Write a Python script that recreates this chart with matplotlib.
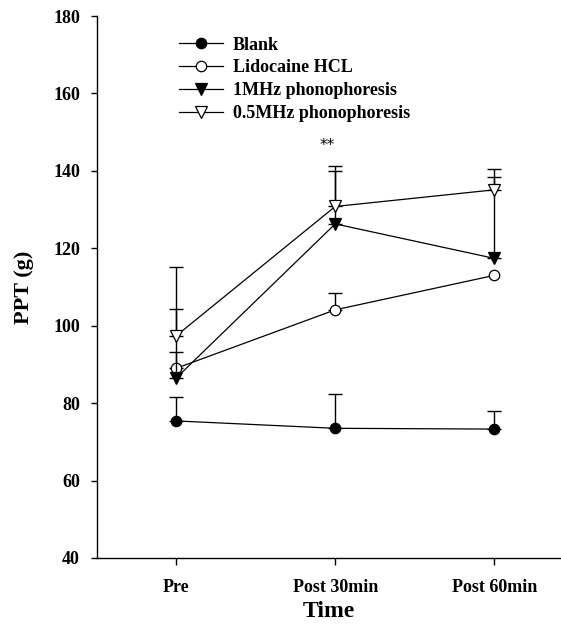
import matplotlib
matplotlib.use("Agg")
import matplotlib.pyplot as plt
import numpy as np

plt.rcParams["font.family"] = ["Liberation Serif", "DejaVu Serif"]
plt.rcParams["font.weight"] = "bold"

# Data
time_labels = ["Pre", "Post 30min", "Post 60min"]
blank = [75.4, 73.5, 73.3]
blank_err = [6.3, 8.8, 4.7]
lidocaine = [89.0, 104.1, 113.0]
lidocaine_err = [4.2, 4.4, 0.0]
mhz1 = [86.5, 126.3, 117.4]
mhz1_err = [17.7, 13.6, 23.2]
mhz05 = [97.4, 130.8, 135.1]
mhz05_err = [17.7, 10.5, 3.3]

series = [
    ("Blank", blank, blank_err, "o", "black"),
    ("Lidocaine HCL", lidocaine, lidocaine_err, "o", "white"),
    ("1MHz phonophoresis", mhz1, mhz1_err, "v", "black"),
    ("0.5MHz phonophoresis", mhz05, mhz05_err, "v", "white"),
]

fig = plt.figure(figsize=(5.61, 6.33), dpi=100)
ax = fig.add_axes([0.1724, 0.1185, 0.8276, 0.8562])

x = np.arange(1, len(time_labels) + 1)
for label, vals, err, marker, face in series:
    vals = np.asarray(vals)
    err = np.asarray(err)
    keep = err > 0
    # upper error bars only
    ax.errorbar(
        x[keep], vals[keep],
        yerr=[np.zeros(keep.sum()), err[keep]],
        fmt="none", ecolor="black", elinewidth=1.0, capsize=5, capthick=1.0,
    )
    ax.plot(
        x, vals,
        color="black", linewidth=0.9, label=label,
        marker=marker, markersize=8.5 if marker == "v" else 7.5,
        markerfacecolor=face, markeredgecolor="black", markeredgewidth=0.9,
    )

ax.text(2 - 0.05, 146.5, "**", ha="center", va="center", fontsize=11,
        fontweight="normal", family="DejaVu Sans")

ax.set_xlim(0.5, 3.42)
ax.set_ylim(40, 180)
ax.set_yticks(np.arange(40, 181, 20))
ax.set_xticks(x)
ax.set_xticklabels(time_labels)

for side in ["top", "right"]:
    ax.spines[side].set_visible(False)
for side in ["left", "bottom"]:
    ax.spines[side].set_linewidth(1.0)

ax.tick_params(axis="y", direction="out", length=4, width=1.0, labelsize=13, pad=8)
ax.tick_params(axis="x", direction="out", length=5, width=1.0, labelsize=13, pad=10)
for lab in ax.get_xticklabels() + ax.get_yticklabels():
    lab.set_fontweight("bold")

ax.set_ylabel("PPT (g)", fontsize=16, fontweight="bold", labelpad=14)
ax.set_xlabel("Time", fontsize=17, fontweight="bold", labelpad=4)

leg = ax.legend(loc="upper left", bbox_to_anchor=(0.177, 0.962), frameon=False,
                fontsize=13, handlelength=2.45, handletextpad=0.55,
                labelspacing=0.32, borderaxespad=0, borderpad=0)
for t in leg.get_texts():
    t.set_fontweight("bold")

fig.savefig("out.png", dpi=100)
